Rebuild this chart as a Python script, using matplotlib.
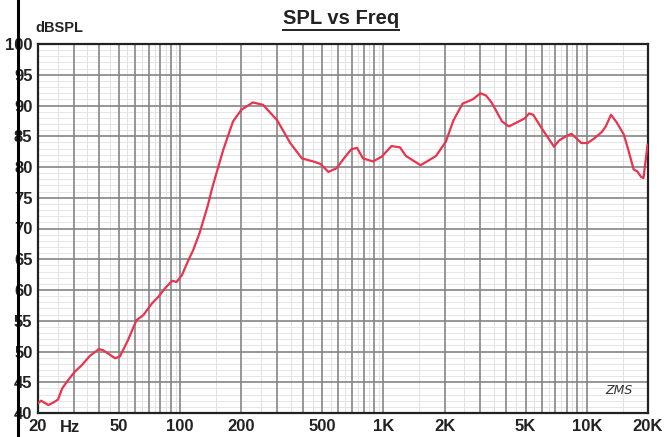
import matplotlib
matplotlib.use("Agg")
import matplotlib.pyplot as plt
from matplotlib.lines import Line2D
import numpy as np

freq = [20, 20.7, 21.2, 22.5, 23.8, 25.1, 26.3, 28.2, 30.3, 32.9, 36.0, 39.9, 41.9,
        47.9, 50.6, 55.5, 61.0, 65.9, 72.6, 78.2, 84.4, 91.4, 96.0, 102, 110, 116,
        125, 137, 143, 150, 163, 182, 200, 228, 256, 300, 348, 397, 452, 490, 536,
        588, 646, 696, 742, 793, 889, 982, 1095, 1206, 1289, 1407, 1522, 1656, 1813,
        2026, 2210, 2450, 2750, 3000, 3200, 3400, 3830, 4140, 4500, 4950, 5200, 5450,
        6000, 6900, 7300, 7900, 8400, 8800, 9400, 10100, 10830, 11860, 12400, 13150,
        14000, 15200, 16000, 17000, 17700, 18500, 19000, 19900]
spl = [41.6, 42.0, 41.8, 41.3, 41.7, 42.2, 44.0, 45.4, 46.7, 47.8, 49.3, 50.4, 50.2,
       48.9, 49.2, 51.9, 55.1, 55.9, 57.8, 58.9, 60.3, 61.5, 61.3, 62.4, 64.9, 66.5,
       69.4, 73.8, 76.3, 78.7, 82.8, 87.4, 89.3, 90.5, 90.1, 87.6, 83.9, 81.4, 80.9,
       80.5, 79.2, 79.8, 81.6, 82.9, 83.1, 81.4, 80.9, 81.7, 83.4, 83.2, 81.8, 81.0,
       80.3, 81.0, 81.8, 84.1, 87.6, 90.3, 91.0, 92.0, 91.6, 90.5, 87.4, 86.6, 87.2,
       87.9, 88.7, 88.5, 86.3, 83.3, 84.3, 85.0, 85.4, 84.8, 83.9, 83.9, 84.6, 85.7,
       86.6, 88.5, 87.3, 85.3, 82.8, 79.6, 79.3, 78.4, 78.2, 83.6]

xticks = [20, 50, 100, 200, 500, 1000, 2000, 5000, 10000, 20000]
xticklabels = ["20", "50", "100", "200", "500", "1K", "2K", "5K", "10K", "20K"]
yticks = list(range(40, 101, 5))

W, H = 664, 437
fig = plt.figure(figsize=(W / 100, H / 100), dpi=100)
fig.patch.set_facecolor("white")
L, R, T, B = 38, 648, 44, 413
ax = fig.add_axes([L / W, 1 - B / H, (R - L) / W, (B - T) / H])

ax.set_xscale("log")
ax.set_xlim(20, 20000)
ax.set_ylim(40, 100)

# grid
major_v = []
minor_v = []
for dec in [10, 100, 1000, 10000]:
    for m in range(1, 10):
        v = m * dec
        if 20 < v < 20000:
            major_v.append(v)
        vh = (m + 0.5) * dec
        if 20 < vh < 20000:
            minor_v.append(vh)
for v in minor_v:
    ax.axvline(v, color="#dddddd", lw=0.6, zorder=1)
for yv in range(41, 100):
    if yv % 5:
        ax.axhline(yv, color="#e2e2e2", lw=0.6, zorder=1)
for v in major_v:
    ax.axvline(v, color="#858585", lw=1.2, zorder=2)
for yv in range(45, 100, 5):
    ax.axhline(yv, color="#858585", lw=1.2, zorder=2)

ax.plot(freq, spl, color="#e8344e", lw=1.6, zorder=5, solid_joinstyle="round")

for s in ax.spines.values():
    s.set_color("#222222")
    s.set_linewidth(1.6)

fam = ["Liberation Sans Narrow", "Liberation Sans", "DejaVu Sans"]
ax.set_xticks(xticks)
ax.set_xticklabels(xticklabels, fontsize=12, fontweight="bold", family=fam, color="#222222")
ax.xaxis.set_minor_locator(matplotlib.ticker.NullLocator())
ax.set_yticks(yticks)
ax.set_yticklabels([str(v) for v in yticks], fontsize=12, fontweight="bold", family=fam, color="#222222")
ax.tick_params(axis="both", length=0)
ax.tick_params(axis="x", pad=4)
ax.tick_params(axis="y", pad=4)

fig.text(60 / W, 1 - 428 / H, "Hz", fontsize=12, fontweight="bold", family=fam,
         color="#222222", ha="left", va="center")

fig.text(35 / W, 1 - 28 / H, "dBSPL", fontsize=10.5, fontweight="bold", family=fam,
         color="#222222", ha="left", va="center")
title = fig.text(341 / W, 1 - 19 / H, "SPL vs Freq", fontsize=14.5, fontweight="bold",
                 family=fam, color="#222222", ha="center", va="center")

ax.text(0.975, 0.06, "ZMS", transform=ax.transAxes, fontsize=9, style="italic",
        family=["DejaVu Sans"], color="#333333", ha="right", va="center", zorder=6)

fig.canvas.draw()
bb = title.get_window_extent()
x0, x1 = bb.x0 / W, bb.x1 / W
yl = (bb.y0 - 1.5) / H
fig.add_artist(Line2D([x0, x1], [yl, yl], color="#222222", lw=1.4))

# page edge line
fig.add_artist(Line2D([18 / W, 18 / W], [0, 1], color="black", lw=2.2))

fig.savefig("out.png", dpi=100)
